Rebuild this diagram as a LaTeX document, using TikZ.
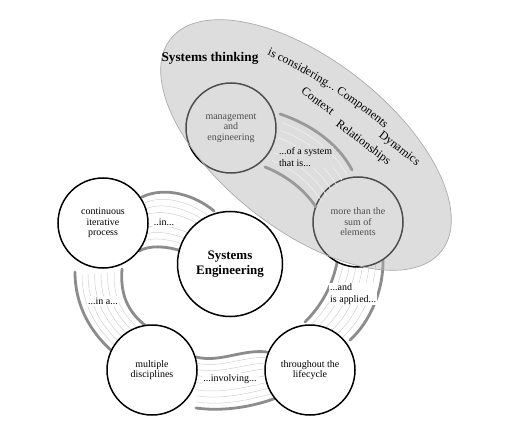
\documentclass[tikz,border=0pt]{standalone}
\usepackage{fontspec}
\setmainfont{Liberation Serif}
\usetikzlibrary{calc,decorations.text}
\newcommand\bandlines[3]{%
  \foreach \t in {#2}
    \draw[#3] ($(#1a0)!\t!(#1b0)$) .. controls ($(#1a1)!\t!(#1b1)$) and ($(#1a2)!\t!(#1b2)$) .. ($(#1a3)!\t!(#1b3)$);}
\newcommand\bandrims[1]{%
  \draw[rim] (#1a0) .. controls (#1a1) and (#1a2) .. (#1a3);
  \draw[rim] (#1b0) .. controls (#1b1) and (#1b2) .. (#1b3);}
\begin{document}
\begin{tikzpicture}[x=1bp,y=-1bp,
  circ/.style={circle,draw=black,line width=1.5bp,fill=white,minimum size=90bp,inner sep=0pt,align=center,font=\fontsize{10}{10.5}\selectfont},
  bigcirc/.style={circ,minimum size=105bp,font=\fontsize{13}{14.5}\selectfont\bfseries},
  rim/.style={draw=black!45,line width=2.8bp,line cap=round},
  hatch/.style={draw=black!18,line width=0.5bp},
  hatchin/.style={draw=black!6,line width=0.6bp},
  lbl/.style={font=\fontsize{10}{12}\selectfont,inner sep=1.5bp,fill=white},
  think/.style={font=\fontsize{12}{14}\selectfont,inner sep=0pt}]
\useasboundingbox (0,0) rectangle (516,444);

% band 1: ..in...
\coordinate (Aa0) at (142,197); \coordinate (Aa1) at (165,186); \coordinate (Aa2) at (195,195); \coordinate (Aa3) at (214,211);
\coordinate (Ab0) at (139,251); \coordinate (Ab1) at (150,245); \coordinate (Ab2) at (165,246); \coordinate (Ab3) at (182,251);
\bandlines{A}{0.14,0.26,0.38,0.62,0.74,0.86}{hatch,shorten <=4bp}
\bandrims{A}
\node[lbl] (t1) at (164,222) {..in...};

% band 2: ...in a...
\coordinate (Ba0) at (75,272); \coordinate (Ba1) at (75,305); \coordinate (Ba2) at (90,332); \coordinate (Ba3) at (113,352);
\coordinate (Bb0) at (122,269); \coordinate (Bb1) at (120,295); \coordinate (Bb2) at (128,312); \coordinate (Bb3) at (146,326);
\bandlines{B}{0.15,0.28,0.42,0.56,0.7,0.84}{hatch,shorten <=3bp}
\bandrims{B}
\node[lbl] (t2) at (103,301) {...in a...};

% band 3: ...involving...
\coordinate (Ca0) at (196,357); \coordinate (Ca1) at (220,363); \coordinate (Ca2) at (242,349); \coordinate (Ca3) at (267,352);
\coordinate (Cb0) at (196,408); \coordinate (Cb1) at (225,412); \coordinate (Cb2) at (255,406); \coordinate (Cb3) at (276,398);
\bandlines{C}{0.12,0.24,0.36,0.5,0.64,0.76,0.88}{hatch}
\bandrims{C}
\node[lbl] (t3) at (230,379) {...involving...};

% band 4: ...and is applied...
\coordinate (Da0) at (338,258); \coordinate (Da1) at (333,285); \coordinate (Da2) at (322,305); \coordinate (Da3) at (305,322);
\coordinate (Db0) at (383,258); \coordinate (Db1) at (384,290); \coordinate (Db2) at (370,322); \coordinate (Db3) at (350,340);
\bandlines{D}{0.14,0.28,0.42,0.56,0.7,0.84}{hatch}
\bandrims{D}
\node[lbl,align=left,anchor=west,inner sep=1bp] (t4) at (329,294) {...and\\is applied...};

% circles
\node[circ] (cip) at (103,223) {continuous\\iterative\\process};
\node[bigcirc] (se) at (230,264) {Systems\\Engineering};
\node[circ] (md) at (152,370) {multiple\\disciplines};
\node[circ] (tl) at (310,370) {throughout the\\lifecycle};
\node[circ] (me) at (231,128) {management\\and\\engineering};
\node[circ] (mt) at (358,222) {more than the\\sum of\\elements};

% systems thinking ellipse (translucent overlay)
\path[fill=black!30,fill opacity=0.44,draw=black!33,line width=0.7bp,rotate around={-38:(306,145)}]
  (306,145) ellipse [x radius=172, y radius=85];

% band 5: ...of a system that is...
\coordinate (Ea0) at (280,114); \coordinate (Ea1) at (310,124); \coordinate (Ea2) at (338,143); \coordinate (Ea3) at (352,170);
\coordinate (Eb0) at (265,167); \coordinate (Eb1) at (285,175); \coordinate (Eb2) at (303,188); \coordinate (Eb3) at (316,207);
\bandlines{E}{0.14,0.28,0.42,0.56,0.7,0.84}{hatchin,shorten <=5bp}
\draw[rim,draw=black!40] (Ea0) .. controls (Ea1) and (Ea2) .. (Ea3);
\draw[rim,draw=black!40] (Eb0) .. controls (Eb1) and (Eb2) .. (Eb3);
\node[lbl,fill=black!13,align=left,anchor=west,inner sep=1bp] (t5) at (278,157) {...of a system\\that is...};

% systems thinking texts
\node[think,font=\fontsize{13.3}{15}\selectfont\bfseries] (st) at (210,58) {Systems thinking};
\coordinate (ics) at (267,55);
\coordinate (ice) at (387,131);
\path[decorate,decoration={text along path,text align=left,
   text={|\fontsize{12}{14}\selectfont|is considering... Components}}]
  (ics) .. controls (300,70) and (346,95) .. (ice);
\node[think,rotate=-37] (ctx) at (318,101) {Context};
\node[think,rotate=-37] (rel) at (363,143) {Relationships};
\node[think,rotate=-38] (dyn) at (399,149) {Dynamics};
\end{tikzpicture}
\end{document}
